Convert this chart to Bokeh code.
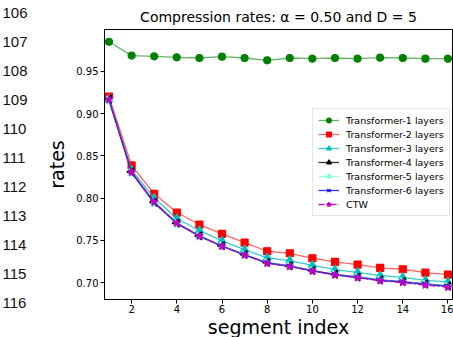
import numpy as np
from bokeh.plotting import figure
from bokeh.layouts import row, column
from bokeh.models import Range1d, FixedTicker, Legend, LegendItem, PrintfTickFormatter
from bokeh.core.properties import value
from bokeh.embed import file_html
from bokeh.resources import INLINE

segments = list(range(1, 17))

t1 = [0.985, 0.9686, 0.9678, 0.9666, 0.9658, 0.9674, 0.9658, 0.9630, 0.9658, 0.9650, 0.9658, 0.9650, 0.9662, 0.9658, 0.9650, 0.9650]
t2 = [0.920, 0.8386, 0.805, 0.7829, 0.7687, 0.7577, 0.7474, 0.7371, 0.7347, 0.7288, 0.7245, 0.7213, 0.7174, 0.7158, 0.7118, 0.7095]
t3 = [0.917, 0.833, 0.800, 0.7758, 0.7616, 0.7494, 0.7391, 0.7293, 0.7261, 0.7205, 0.7154, 0.7122, 0.7083, 0.7063, 0.7027, 0.7008]
t4 = [0.917, 0.831, 0.795, 0.7703, 0.7553, 0.7435, 0.7332, 0.7237, 0.7198, 0.7142, 0.7098, 0.7067, 0.7032, 0.7012, 0.6985, 0.6961]
t5 = [0.916, 0.8305, 0.7945, 0.7700, 0.7550, 0.7432, 0.7330, 0.7235, 0.7195, 0.7140, 0.7095, 0.7063, 0.7030, 0.7010, 0.6982, 0.6958]
t6 = [0.9155, 0.830, 0.7942, 0.7698, 0.7548, 0.7430, 0.7328, 0.7232, 0.7193, 0.7138, 0.7093, 0.7060, 0.7027, 0.7007, 0.6978, 0.6955]
ctw = [0.917, 0.8305, 0.7955, 0.7705, 0.7552, 0.7430, 0.7325, 0.7228, 0.7190, 0.7135, 0.7090, 0.7057, 0.7022, 0.7000, 0.6970, 0.6945]

series_names = ["Transformer-1 layers", "Transformer-2 layers", "Transformer-3 layers",
                "Transformer-4 layers", "Transformer-5 layers", "Transformer-6 layers", "CTW"]
x_ticks = [2, 4, 6, 8, 10, 12, 14, 16]
y_ticks = [0.70, 0.75, 0.80, 0.85, 0.90, 0.95]
line_numbers = ["106", "107", "108", "109", "110", "111", "112", "113", "114", "115", "116"]

FONT = "DejaVu Sans"
W, H = 453, 337
LEFT_W = 40            # width of the line-number margin strip
BOTTOM_H = 20          # height of the strip holding the x-axis title
MAIN_W, MAIN_H = W - LEFT_W, H - BOTTOM_H
BORDER_L = 104 - LEFT_W

x_range = Range1d(0.8, 16.2)

# ---------------- main chart ----------------
p = figure(width=MAIN_W, height=MAIN_H, output_backend="svg", toolbar_location=None,
           x_range=x_range, y_range=Range1d(0.680, 0.9995),
           min_border_left=BORDER_L, min_border_right=1, min_border_top=29,
           min_border_bottom=18)

p.title.text = "Compression rates: α = 0.50 and D = 5"
p.title.align = "center"
p.title.text_font = FONT
p.title.text_font_size = "14px"
p.title.text_font_style = "normal"
p.title.text_color = "black"

p.outline_line_color = "black"
p.outline_line_width = 1
p.xgrid.visible = False
p.ygrid.visible = False

for ax in (p.xaxis[0], p.yaxis[0]):
    ax.axis_line_color = "black"
    ax.major_tick_line_color = "black"
    ax.major_tick_out = 4
    ax.major_tick_in = 0
    ax.minor_tick_line_color = None
    ax.major_label_text_font = FONT
    ax.major_label_text_font_size = "10px"
    ax.major_label_text_color = "black"
    ax.axis_label_text_font = FONT
    ax.axis_label_text_font_size = "19px"
    ax.axis_label_text_font_style = "normal"
    ax.axis_label_text_color = "black"

p.xaxis.major_label_standoff = 1
p.yaxis.major_label_standoff = 2
p.xaxis.ticker = FixedTicker(ticks=x_ticks)
p.yaxis.ticker = FixedTicker(ticks=y_ticks)
p.yaxis.formatter = PrintfTickFormatter(format="%.2f")
p.yaxis.axis_label = "rates"
p.yaxis.axis_label_standoff = 5

specs = [
    (t1, "#008000", "circle", 7, 0.0, "solid", 0.6),
    (t2, "#ff0000", "square", 7, 0.0, "solid", 0.6),
    (t3, "#00bfbf", "triangle", 8, 0.0, "solid", 0.8),
    (t4, "#000000", "triangle", 8, np.pi / 2, "solid", 0.8),
    (t5, "#7fffd4", "triangle", 8, -np.pi / 2, "solid", 0.8),
    (t6, "#0000ff", "x", 7, 0.0, "solid", 0.8),
    (ctw, "#bf00bf", "star", 8, 0.0, "6 2 2 2", 0.9),
]

items = []
for (vals, color, marker, size, angle, dash, alpha), name in zip(specs, series_names):
    r1 = p.line(segments, vals, line_color=color, line_width=1.3, line_alpha=alpha, line_dash=dash)
    r2 = p.scatter(segments, vals, marker=marker, size=size, angle=angle,
                   fill_color=color, line_color=color, line_width=1.2)
    items.append(LegendItem(label=name, renderers=[r1, r2]))

legend = Legend(items=items, location=(208, 83))
legend.label_text_font = FONT
legend.label_text_font_size = "9.5px"
legend.label_text_color = "black"
legend.glyph_width = 21
legend.glyph_height = 12
legend.label_height = 12
legend.spacing = 2
legend.padding = 5
legend.margin = 0
legend.label_standoff = 7
legend.border_line_color = "#cccccc"
legend.border_line_width = 1
legend.background_fill_alpha = 0.8
p.add_layout(legend, "center")

# ---------------- x-axis title strip ----------------
xb = figure(width=MAIN_W, height=BOTTOM_H, output_backend="svg", toolbar_location=None,
            x_range=x_range, y_range=Range1d(0, BOTTOM_H),
            min_border_left=BORDER_L, min_border_right=1, min_border_top=0, min_border_bottom=0,
            x_axis_type=None, y_axis_type=None)
xb.outline_line_color = None
xb.xgrid.visible = False
xb.ygrid.visible = False
xb.text(x=[(x_range.start + x_range.end) / 2], y=[BOTTOM_H - (326 - MAIN_H)], text=["segment index"],
        text_font=value(FONT), text_font_size="19px", text_color="black",
        text_align="center", text_baseline="middle")

# ---------------- manuscript line numbers strip ----------------
ln = figure(width=LEFT_W, height=H, output_backend="svg", toolbar_location=None,
            x_range=Range1d(0, LEFT_W), y_range=Range1d(0, H),
            min_border=0, x_axis_type=None, y_axis_type=None)
ln.outline_line_color = None
ln.xgrid.visible = False
ln.ygrid.visible = False
ln_y = [H - (12.7 + 28.95 * i) for i in range(len(line_numbers))]
ln.text(x=[2] * len(line_numbers), y=ln_y, text=line_numbers,
        text_font=value("Liberation Sans"), text_font_size="15px", text_color="#111111",
        text_align="left", text_baseline="middle")

layout = row(ln, column(p, xb, spacing=0), spacing=0)

open("out.html", "w").write(file_html(layout, INLINE))
